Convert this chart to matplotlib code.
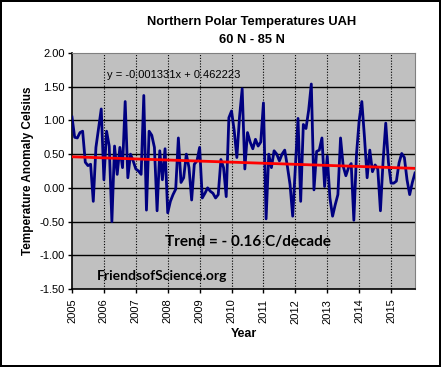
import numpy as np
import matplotlib
matplotlib.use("Agg")
import matplotlib.pyplot as plt

# monthly anomalies, Jan 2005 .. Oct 2015
anom_2005 = [1.05, 0.75, 0.74, 0.82, 0.84, 0.38, 0.33, 0.35, -0.20, 0.60, 0.88, 1.17]
anom_2006 = [0.12, 0.84, 0.62, -0.50, 0.62, 0.20, 0.60, 0.30, 1.28, 0.15, 0.50, 0.40]
anom_2007 = [0.28, 0.25, 0.20, 1.37, -0.33, 0.84, 0.78, 0.60, -0.34, 0.55, 0.12, 0.58]
anom_2008 = [-0.37, -0.20, -0.10, -0.02, 0.74, 0.08, 0.15, 0.50, 0.30, -0.18, 0.35, 0.40]
anom_2009 = [0.60, -0.15, -0.08, 0.00, -0.05, -0.08, -0.15, -0.10, 0.42, 0.30, -0.13, 1.04]
anom_2010 = [1.14, 0.85, 0.45, 1.05, 1.47, 0.28, 0.82, 0.68, 0.58, 0.72, 0.62, 0.68]
anom_2011 = [1.26, -0.46, 0.50, 0.30, 0.55, 0.50, 0.40, 0.50, 0.56, 0.32, 0.05, -0.42]
anom_2012 = [0.32, 1.03, -0.20, 0.94, 0.88, 1.15, 1.54, -0.03, 0.54, 0.56, 0.74, 0.02]
anom_2013 = [0.47, -0.15, -0.42, -0.25, -0.10, 0.74, 0.32, 0.18, 0.30, 0.36, -0.48, 0.50]
anom_2014 = [1.00, 1.28, 0.75, 0.15, 0.56, 0.24, 0.34, 0.28, -0.34, 0.40, 0.96, 0.38]
anom_2015 = [0.07, 0.07, 0.10, 0.37, 0.51, 0.45, 0.12, -0.10, 0.08, 0.22]

years = [str(y) for y in range(2005, 2016)]
trend_slope = -0.001331
trend_intercept = 0.462223

anom = np.array(anom_2005 + anom_2006 + anom_2007 + anom_2008 + anom_2009 + anom_2010
                + anom_2011 + anom_2012 + anom_2013 + anom_2014 + anom_2015)
months = np.arange(len(anom))

W, H = 441, 367
fig = plt.figure(figsize=(W / 100, H / 100), dpi=100)
fig.patch.set_facecolor("white")
fig.patch.set_edgecolor("black")
fig.patch.set_linewidth(1.5)

ax = fig.add_axes([72 / W, 1 - 289 / H, (415 - 72) / W, (289 - 53) / H])
ax.set_facecolor("#c0c0c0")

for v in np.arange(-1.0, 2.0, 0.5):
    ax.axhline(v, color="black", lw=1.0, zorder=1)
for m in range(12, len(anom), 12):
    ax.axvline(m, color="black", lw=0.8, ls=(0, (1, 1.5)), zorder=1)

ax.plot(months, anom, color="#000080", lw=2.0, zorder=3)
trend_x = np.array([0, len(anom) - 1])
ax.plot(trend_x, trend_slope * (trend_x + 1) + trend_intercept, color="#ff0000", lw=2.0, zorder=4)

ax.set_xlim(0, len(anom) - 1)
ax.set_ylim(-1.5, 2.0)
ax.set_yticks(np.arange(-1.5, 2.01, 0.5))
ax.set_yticklabels([f"{v:.2f}" for v in np.arange(-1.5, 2.01, 0.5)], fontsize=8,
                   family="Liberation Sans")
ax.set_xticks(np.arange(0, len(anom), 12))
ax.set_xticklabels(years, rotation=90, fontsize=8, family="Liberation Sans")
ax.tick_params(axis="both", direction="out", length=3, width=1, pad=2)
ax.tick_params(axis="x", pad=4)

for s in ["top", "right"]:
    ax.spines[s].set_color("#808080")
for s in ["left", "bottom"]:
    ax.spines[s].set_color("black")
    ax.spines[s].set_linewidth(1.2)

ax.set_ylabel("Temperature Anomaly Celsius", fontsize=8.5, fontweight="bold",
              family="Liberation Sans", labelpad=4)
ax.set_xlabel("Year", fontsize=9, fontweight="bold", family="Liberation Sans", labelpad=3)

fig.text(252 / W, 1 - 22 / H, "Northern Polar Temperatures UAH", ha="center", va="center",
         fontsize=9.3, fontweight="bold", family="Liberation Sans")
fig.text(252 / W, 1 - 40 / H, "60 N - 85 N", ha="center", va="center",
         fontsize=9.3, fontweight="bold", family="Liberation Sans")

fig.text(107 / W, 1 - 75 / H, "y = -0.001331x + 0.462223", ha="left", va="center",
         fontsize=8, family="Liberation Sans")
fig.text(248 / W, 1 - 242 / H, "Trend = - 0.16 C/decade", ha="center", va="center",
         fontsize=11, fontweight="bold", family="Lato")
fig.text(97 / W, 1 - 276 / H, "FriendsofScience.org", ha="left", va="center",
         fontsize=10, fontweight="bold", family="Lato")

fig.savefig("out.png", dpi=100, facecolor=fig.get_facecolor(), edgecolor=fig.get_edgecolor())
